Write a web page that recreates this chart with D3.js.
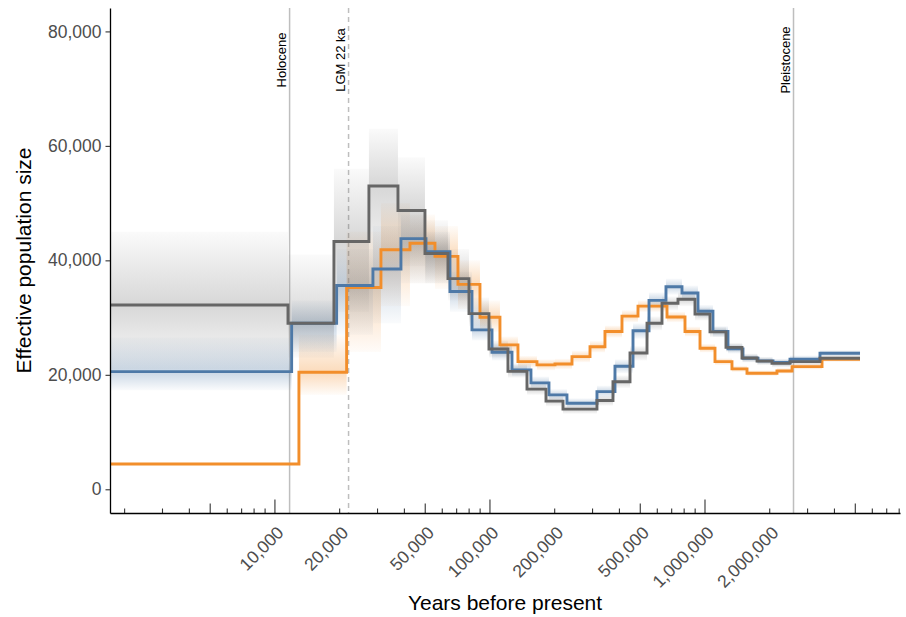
<!DOCTYPE html>
<html>
<head>
<meta charset="utf-8">
<script src="https://cdn.jsdelivr.net/npm/d3@7"></script>
<style>
  html, body { margin: 0; padding: 0; background: #fff; }
  svg { display: block; font-family: "Liberation Sans", Arial, Helvetica, sans-serif; }
</style>
</head>
<body>
<svg id="chart" width="906" height="617"></svg>
<script>
// ---------------- data ----------------
// step breakpoints (years before present) and effective population size per interval
const greyTimes = [1710, 11500, 18810, 27360, 37340, 49860, 63780, 79870, 98930, 121250, 148650, 182200, 218600, 314500, 373300, 448000, 537500, 631000, 748900, 898400, 1055000, 1252000, 1486000, 1746000, 2049000, 2485000, 3426000, 5259000];
const greyNe    = [32200, 29000, 43300, 53000, 48700, 41200, 36800, 30700, 24500, 20600, 17500, 15400, 14000, 15500, 18800, 23800, 29000, 32500, 33200, 30600, 27500, 24800, 22950, 22400, 22000, 22300, 22900];
const greyLow   = [21000, 23000, 31000, 38000, 39000, 36000, 33000, 28500, 23000, 19500, 16500, 14500, 13200, 14600, 17700, 22500, 27800, 31300, 32000, 29500, 26600, 24000, 22200, 21700, 21300, 21600, 22300];
const greyHigh  = [45000, 41000, 56000, 63000, 58000, 47000, 42000, 33500, 26000, 21800, 18500, 16300, 14800, 16400, 19900, 25000, 30200, 33700, 34400, 31700, 28400, 25600, 23700, 23100, 22700, 23000, 23500];

const blueTimes = [1710, 11960, 19360, 28560, 38550, 50400, 65160, 82480, 102200, 126600, 155100, 188100, 228100, 314500, 381400, 462600, 549100, 658500, 781600, 927700, 1089000, 1279000, 1502000, 1764000, 2072000, 2485000, 3426000, 5259000];
const blueNe    = [20560, 29000, 35600, 38500, 43800, 41500, 34550, 27850, 23950, 20860, 18600, 16500, 15030, 17060, 21500, 27700, 33000, 35400, 34300, 31100, 27560, 24530, 22900, 22430, 22140, 22730, 23780];
const blueLow   = [17300, 24000, 27000, 29000, 36000, 36000, 31000, 26000, 22500, 19700, 17500, 15500, 14200, 16000, 20300, 26300, 31600, 34000, 33000, 30000, 26600, 23700, 22200, 21800, 21500, 22100, 23200];
const blueHigh  = [26500, 33000, 42000, 46000, 48000, 45000, 38000, 30000, 25500, 22000, 19700, 17500, 15900, 18100, 22700, 29000, 34400, 36800, 35600, 32200, 28500, 25400, 23600, 23100, 22800, 23400, 24300];

const orangeTimes = [1710, 12930, 21550, 31120, 42460, 55490, 70990, 89850, 111300, 134960, 165400, 200600, 240700, 291900, 342600, 411100, 488000, 665700, 807200, 948000, 1113000, 1335000, 1568000, 2161000, 2540000, 3501000, 5259000];
const orangeNe    = [4420, 20450, 35250, 41840, 43000, 40700, 35800, 30070, 25230, 22310, 21730, 21900, 23180, 24900, 27560, 30250, 32000, 30100, 27560, 24650, 22310, 21030, 20280, 20680, 21440, 22730];
const orangeLow   = [4200, 16500, 24000, 32000, 36000, 35000, 31500, 27500, 23800, 21300, 20800, 21000, 22200, 23900, 26500, 29200, 31000, 29200, 26700, 23900, 21700, 20500, 19800, 20200, 20900, 22300];
const orangeHigh  = [4650, 27000, 45000, 50000, 48000, 46000, 40000, 33000, 26700, 23300, 22700, 22800, 24200, 25900, 28600, 31300, 33000, 31000, 28400, 25400, 22900, 21600, 20800, 21200, 22000, 23200];

const xTickLabels = [10000, 20000, 50000, 100000, 200000, 500000, 1000000, 2000000];
const yTickValues = [0, 20000, 40000, 60000, 80000];

const eventNames = ["Holocene", "LGM 22 ka", "Pleistocene"];
const eventYears = [11700, 22000, 2580000];
const eventDashed = [false, true, false];

// ---------------- layout ----------------
const L = 110, R = 900, T = 8, B = 513;
const svg = d3.select("#chart");

const x = d3.scaleLog().domain([1710, 8070000]).range([L, R]);
const y = d3.scaleLinear().domain([-4143, 84090]).range([B, T]);

const defs = svg.append("defs");
defs.append("clipPath").attr("id", "clip")
  .append("rect").attr("x", L).attr("y", T).attr("width", R - L).attr("height", B - T);

const series = [
  { id: "or", t: orangeTimes, ne: orangeNe, lo: orangeLow, hi: orangeHigh, color: "#F28E2B", bandOp: 0.32 },
  { id: "bl", t: blueTimes,   ne: blueNe,   lo: blueLow,   hi: blueHigh,   color: "#4E79A7", bandOp: 0.30 },
  { id: "gr", t: greyTimes,   ne: greyNe,   lo: greyLow,   hi: greyHigh,   color: "#666666", bandOp: 0.26 }
];

// gradients: fade away from the main line
series.forEach(s => {
  const up = defs.append("linearGradient").attr("id", "up-" + s.id)
    .attr("x1", 0).attr("y1", 0).attr("x2", 0).attr("y2", 1);
  up.append("stop").attr("offset", "0%").attr("stop-color", s.color).attr("stop-opacity", 0.03);
  up.append("stop").attr("offset", "100%").attr("stop-color", s.color).attr("stop-opacity", s.bandOp);
  const dn = defs.append("linearGradient").attr("id", "dn-" + s.id)
    .attr("x1", 0).attr("y1", 0).attr("x2", 0).attr("y2", 1);
  dn.append("stop").attr("offset", "0%").attr("stop-color", s.color).attr("stop-opacity", s.bandOp);
  dn.append("stop").attr("offset", "100%").attr("stop-color", s.color).attr("stop-opacity", 0.03);
});

const plot = svg.append("g").attr("clip-path", "url(#clip)");

function steps(times, vals) {
  const pts = vals.map((v, i) => [times[i], v]);
  pts.push([times[times.length - 1], vals[vals.length - 1]]);
  return pts;
}
const line = d3.line().curve(d3.curveStepAfter).x(d => x(d[0])).y(d => y(d[1]));

// event vertical lines
eventYears.forEach((yr, i) => {
  plot.append("line")
    .attr("x1", x(yr)).attr("x2", x(yr)).attr("y1", T).attr("y2", B)
    .attr("stroke", "#BEBEBE").attr("stroke-width", 1.5)
    .attr("stroke-dasharray", eventDashed[i] ? "5,4" : null);
});

// bootstrap envelopes (upper and lower halves, fading away from the estimate)
series.forEach(s => {
  const segs = s.ne.map((v, i) => ({ x0: s.t[i], x1: s.t[i + 1], ne: v, lo: s.lo[i], hi: s.hi[i] }));
  const g = plot.append("g");
  g.selectAll("rect.u").data(segs).join("rect").attr("class", "u")
    .attr("x", d => x(d.x0)).attr("width", d => x(d.x1) - x(d.x0))
    .attr("y", d => y(d.hi)).attr("height", d => Math.max(0.5, y(d.ne) - y(d.hi)))
    .attr("fill", `url(#up-${s.id})`);
  g.selectAll("rect.d").data(segs).join("rect").attr("class", "d")
    .attr("x", d => x(d.x0)).attr("width", d => x(d.x1) - x(d.x0))
    .attr("y", d => y(d.ne)).attr("height", d => Math.max(0.5, y(d.lo) - y(d.ne)))
    .attr("fill", `url(#dn-${s.id})`);
});
// main lines
series.forEach(s => {
  plot.append("path").datum(steps(s.t, s.ne))
    .attr("d", line).attr("fill", "none").attr("stroke", s.color)
    .attr("stroke-width", 2.9).attr("stroke-linejoin", "miter");
});

// event labels
eventYears.forEach((yr, i) => {
  svg.append("text")
    .attr("transform", `translate(${x(yr) - 3.5},60) rotate(-90)`)
    .attr("text-anchor", "middle")
    .attr("font-size", 13).attr("fill", "#000")
    .text(eventNames[i]);
});

// ---------------- axes ----------------
const yAxis = svg.append("g").attr("transform", `translate(${L},0)`)
  .call(d3.axisLeft(y).tickValues(yTickValues).tickFormat(d3.format(",")).tickSize(4.5).tickSizeOuter(0).tickPadding(4));
yAxis.select(".domain").attr("stroke", "#000").attr("stroke-width", 1.3);
yAxis.selectAll(".tick line").attr("stroke", "#333").attr("stroke-width", 1.1);
yAxis.selectAll(".tick text").attr("font-size", 17.5).attr("fill", "#4D4D4D")
  .attr("font-family", "'Liberation Sans', Arial, sans-serif");

// log ticks inside panel
const logTicks = [];
for (let e = 3; e <= 6; e++) for (let k = 1; k <= 9; k++) {
  const v = k * Math.pow(10, e);
  if (v >= x.domain()[0] && v <= x.domain()[1]) logTicks.push([v, k]);
}
svg.append("g").selectAll("line").data(logTicks).join("line")
  .attr("x1", d => x(d[0])).attr("x2", d => x(d[0]))
  .attr("y1", B).attr("y2", d => B - (d[1] === 1 ? 13.5 : d[1] === 5 ? 9.5 : 4.5))
  .attr("stroke", "#333").attr("stroke-width", 1.1);

const xAxis = svg.append("g").attr("transform", `translate(0,${B})`)
  .call(d3.axisBottom(x).tickValues(xTickLabels).tickFormat(d3.format(",")).tickSize(0).tickSizeOuter(0));
xAxis.select(".domain").attr("stroke", "#000").attr("stroke-width", 1.3);
xAxis.selectAll(".tick text")
  .attr("x", 0).attr("y", 0).attr("dy", "0.71em")
  .attr("text-anchor", "end")
  .attr("transform", "translate(0.5,12) rotate(-45)")
  .attr("font-size", 17.5).attr("fill", "#4D4D4D")
  .attr("font-family", "'Liberation Sans', Arial, sans-serif");

// titles
svg.append("text").attr("x", (L + R) / 2).attr("y", 610)
  .attr("text-anchor", "middle").attr("font-size", 21).attr("fill", "#000")
  .text("Years before present");
svg.append("text").attr("transform", `translate(31,${(T + B) / 2}) rotate(-90)`)
  .attr("text-anchor", "middle").attr("font-size", 21).attr("fill", "#000")
  .text("Effective population size");
</script>
</body>
</html>
